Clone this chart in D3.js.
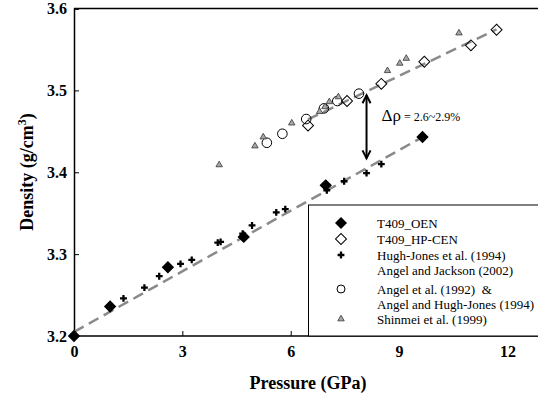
<!DOCTYPE html>
<html>
<head>
<meta charset="utf-8">
<script src="https://cdn.jsdelivr.net/npm/d3@7"></script>
</head>
<body style="margin:0; background:white">
<script>
// data: [pressure (GPa), density (g/cm3)]
var oen = [[0, 3.200], [1.0, 3.236], [2.6, 3.284], [4.7, 3.321], [6.97, 3.384], [9.65, 3.443]];
var hpcen = [[6.48, 3.457], [7.56, 3.487], [8.51, 3.508], [9.70, 3.535], [10.99, 3.555], [11.70, 3.574]];
var hughJones = [[1.37, 3.246], [1.95, 3.259], [2.36, 3.273], [2.95, 3.288], [3.26, 3.293],
                 [3.98, 3.314], [4.06, 3.315], [4.67, 3.325], [4.93, 3.335], [5.6, 3.351],
                 [5.85, 3.355], [7.0, 3.378], [7.48, 3.389], [8.1, 3.399], [8.51, 3.410]];
var angel = [[5.34, 3.436], [5.77, 3.447], [6.43, 3.465], [6.92, 3.478], [7.29, 3.487], [7.89, 3.496]];
var shinmei = [[4.02, 3.409], [5.01, 3.432], [5.24, 3.443], [6.03, 3.460], [6.8, 3.474],
               [6.95, 3.480], [7.07, 3.486], [7.32, 3.492], [8.68, 3.524], [9.02, 3.533],
               [9.2, 3.539], [10.66, 3.570]];
var fitLow = [[0, 3.205], [9.65, 3.443]];
var fitHigh = [[6.48, 3.4646], [11.70, 3.5745]];
var arrowAt = {p: 8.1, top: 3.494, bottom: 3.417};

var xTicks = [0, 3, 6, 9, 12];
var yTicks = [3.2, 3.3, 3.4, 3.5, 3.6];
var legendLabels = ["T409_OEN", "T409_HP-CEN", "Hugh-Jones et al. (1994)", "Angel and Jackson (2002)",
                    "Angel et al. (1992)  &", "Angel and Hugh-Jones (1994)", "Shinmei et al. (1999)"];

var screen = {width: 538, height: 398};
var serif = "Liberation Serif";

var svg = d3.select("body")
            .append("svg")
            .attr("width", screen.width)
            .attr("height", screen.height);

var xScale = d3.scaleLinear()
               .domain([0, 13])
               .range([74, 543.5]);

var yScale = d3.scaleLinear()
               .domain([3.2, 3.6])
               .range([336, 8.5]);

// frame
svg.append("line")
   .attr("x1", xScale(0)).attr("x2", screen.width)
   .attr("y1", yScale(3.6)).attr("y2", yScale(3.6))
   .attr("stroke", "black").attr("stroke-width", 1.5);

var xAxis = d3.axisBottom(xScale)
              .tickValues(xTicks)
              .tickSize(-5)
              .tickPadding(10)
              .tickFormat(d3.format("d"));

var yAxis = d3.axisLeft(yScale)
              .tickValues(yTicks)
              .tickSize(-5)
              .tickPadding(7)
              .tickFormat(d3.format(".1f"));

var gx = svg.append("g")
   .attr("transform", "translate(0," + yScale(3.2) + ")")
   .call(xAxis);
gx.select(".domain").attr("d", "M" + xScale(0) + ",0H" + screen.width)
   .attr("stroke-width", 1.5);

var gy = svg.append("g")
   .attr("transform", "translate(" + xScale(0) + ",0)")
   .call(yAxis);
gy.select(".domain").attr("stroke-width", 1.5);

svg.selectAll(".tick text")
   .style("font-size", "16px")
   .style("font-weight", "bold");
gx.selectAll(".tick text").attr("dy", "0.71em");

svg.append("text")
   .attr("x", 308)
   .attr("y", 389)
   .attr("text-anchor", "middle")
   .style("font-size", "18px")
   .style("font-weight", "bold")
   .text("Pressure (GPa)");

var ylab = svg.append("text")
   .attr("transform", "translate(33," + 172 + ") rotate(-90)")
   .attr("text-anchor", "middle")
   .style("font-size", "18px")
   .style("font-weight", "bold");
ylab.append("tspan").text("Density (g/cm");
ylab.append("tspan").attr("dy", -7).style("font-size", "12px").text("3");
ylab.append("tspan").attr("dy", 7).text(")");

// fitted lines
var lineGen = d3.line()
                .x(function(d) { return xScale(d[0]); })
                .y(function(d) { return yScale(d[1]); });

[fitLow, fitHigh].forEach(function(fit)
{
  svg.append("path")
     .attr("d", lineGen(fit))
     .attr("fill", "none")
     .attr("stroke", "#8a8a8a")
     .attr("stroke-width", 2.5)
     .attr("stroke-dasharray", "11,6");
});

var diamond = d3.symbol().type(d3.symbolSquare).size(60);
var cross = d3.symbol().type(d3.symbolCross).size(26);
var tri = d3.symbol().type(d3.symbolTriangle).size(18);

var drawPoints = function(data, gen, fill, stroke, sw, rot)
{
  svg.append("g")
     .selectAll("path")
     .data(data)
     .enter()
     .append("path")
     .attr("d", gen)
     .attr("transform", function(d) {
        return "translate(" + xScale(d[0]) + "," + yScale(d[1]) + ")" + (rot ? " rotate(45)" : "");
     })
     .attr("fill", fill)
     .attr("stroke", stroke)
     .attr("stroke-width", sw);
}

svg.append("g")
   .selectAll("circle")
   .data(angel)
   .enter()
   .append("circle")
   .attr("cx", function(d) { return xScale(d[0]); })
   .attr("cy", function(d) { return yScale(d[1]); })
   .attr("r", 4.8)
   .attr("fill", "none")
   .attr("stroke", "black")
   .attr("stroke-width", 1);

drawPoints(hpcen, diamond, "none", "black", 1, true);
drawPoints(shinmei, tri, "#a8a8a8", "#333", 0.8, false);
drawPoints(hughJones, cross, "black", "none", 0, false);
drawPoints(oen, diamond, "black", "black", 1, true);

// arrow + annotation
var ax = xScale(arrowAt.p), ay1 = yScale(arrowAt.top), ay2 = yScale(arrowAt.bottom);
svg.append("line")
   .attr("x1", ax).attr("x2", ax)
   .attr("y1", ay1).attr("y2", ay2)
   .attr("stroke", "black").attr("stroke-width", 2);
svg.append("path")
   .attr("d", "M" + (ax - 4) + "," + (ay1 + 8) + "L" + ax + "," + ay1 + "L" + (ax + 4) + "," + (ay1 + 8)
            + "M" + (ax - 4) + "," + (ay2 - 8) + "L" + ax + "," + ay2 + "L" + (ax + 4) + "," + (ay2 - 8))
   .attr("fill", "none")
   .attr("stroke", "black")
   .attr("stroke-width", 2);

var note = svg.append("text")
   .attr("x", ax + 15)
   .attr("y", 121);
note.append("tspan").style("font-size", "17px").text("\u0394\u03C1");
note.append("tspan").style("font-size", "12px").text(" = 2.6~2.9%");

// legend
var legend = svg.append("g");
legend.append("rect")
      .attr("x", 308.5)
      .attr("y", 205)
      .attr("width", 240)
      .attr("height", 131)
      .attr("fill", "white")
      .attr("stroke", "black")
      .attr("stroke-width", 1);

var rowsY = [223, 239, 255, 270, 289, 304, 319];
legend.selectAll("text")
      .data(legendLabels)
      .enter()
      .append("text")
      .attr("x", 377)
      .attr("y", function(d, i) { return rowsY[i]; })
      .attr("dy", "0.35em")
      .style("font-size", "13px")
      .style("white-space", "pre")
      .text(function(d) { return d; });

var mx = 341;
legend.append("path").attr("d", d3.symbol().type(d3.symbolSquare).size(72)())
      .attr("transform", "translate(" + mx + "," + rowsY[0] + ") rotate(45)")
      .attr("fill", "black");
legend.append("path").attr("d", d3.symbol().type(d3.symbolSquare).size(60)())
      .attr("transform", "translate(" + mx + "," + rowsY[1] + ") rotate(45)")
      .attr("fill", "white").attr("stroke", "black");
legend.append("path").attr("d", cross())
      .attr("transform", "translate(" + mx + "," + rowsY[2] + ")")
      .attr("fill", "black");
legend.append("circle").attr("cx", mx).attr("cy", rowsY[4]).attr("r", 4)
      .attr("fill", "none").attr("stroke", "black");
legend.append("path").attr("d", tri())
      .attr("transform", "translate(" + mx + "," + rowsY[6] + ")")
      .attr("fill", "#a8a8a8").attr("stroke", "#333").attr("stroke-width", 0.8);

// every label in the serif face
svg.selectAll("text, tspan").style("font-family", serif).attr("fill", "black");
</script>
</body>
</html>
